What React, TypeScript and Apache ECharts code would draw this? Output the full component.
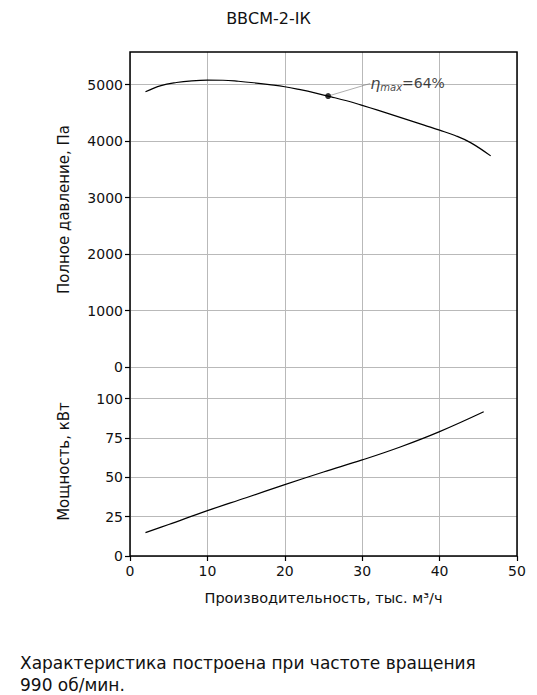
import React, { useEffect, useRef } from 'react';
import * as echarts from 'echarts';

const chartTitle = 'ВВСМ-2-ІК';
const xName = 'Производительность, тыс. м³/ч';
const pressureName = 'Полное давление, Па';
const powerName = 'Мощность, кВт';
const footnote = 'Характеристика построена при частоте вращения\n990 об/мин.';

const xTicks = [0, 10, 20, 30, 40, 50];
const pressureTicks = [0, 1000, 2000, 3000, 4000, 5000];
const powerTicks = [0, 25, 50, 75, 100];

const pressureFlow = [2, 4, 6, 8, 10, 12, 14, 16, 18, 20, 22, 24, 26, 28, 30, 32, 34, 36, 38, 40, 42, 44, 46.6];
const pressureValues = [4876, 4985, 5040, 5070, 5082, 5080, 5062, 5035, 5002, 4965, 4912, 4852, 4786, 4716, 4635, 4550, 4463, 4374, 4284, 4195, 4100, 3975, 3740];

const powerFlow = [2, 5, 10, 15, 20, 25, 30, 35, 40, 45.7];
const powerValues = [14.8, 20, 28.8, 37, 45.3, 53.3, 61, 69.4, 79, 91.6];

const etaPoint = [25.6, 4800];
const etaText = '64%';

const FONT = '"DejaVu Sans", "Liberation Sans", Arial, sans-serif';

export default function App() {
  const ref = useRef<HTMLDivElement>(null);
  useEffect(() => {
    if (!ref.current) return;
    const chart = echarts.init(ref.current, undefined, { renderer: 'svg' });
    const gridColor = '#b9b9b9';
    const axisLabel = { color: '#111', fontSize: 14, fontFamily: FONT, formatter: (v: number) => String(v) };
    const left = 130, right = 20, topTop = 52, midY = 367, bottomY = 556;
    chart.setOption({
      animation: false,
      backgroundColor: '#fff',
      textStyle: { fontFamily: FONT },
      title: {
        text: chartTitle,
        left: 'center',
        top: 5,
        textStyle: { fontSize: 16, fontWeight: 'normal', color: '#111', fontFamily: FONT },
      },
      grid: [
        { left, right, top: topTop, height: midY - topTop },
        { left, right, top: midY, height: bottomY - midY },
      ],
      xAxis: [
        {
          gridIndex: 0, type: 'value', min: xTicks[0], max: xTicks[xTicks.length - 1], interval: 10,
          axisLine: { show: false }, axisTick: { show: false }, axisLabel: { show: false },
          splitLine: { show: true, lineStyle: { color: gridColor, width: 1 } },
        },
        {
          gridIndex: 1, type: 'value', min: xTicks[0], max: xTicks[xTicks.length - 1], interval: 10,
          axisLine: { show: false },
          axisTick: { show: true, inside: false, length: 5, lineStyle: { color: '#000', width: 1.2 } },
          axisLabel: { ...axisLabel, margin: 8 },
          splitLine: { show: true, lineStyle: { color: gridColor, width: 1 } },
          name: xName, nameLocation: 'middle', nameGap: 34,
          nameTextStyle: { color: '#111', fontSize: 14.5, fontFamily: FONT },
        },
      ],
      yAxis: [
        {
          gridIndex: 0, type: 'value', min: 0, max: 5580, interval: 1000,
          axisLine: { show: false },
          axisTick: { show: true, length: 5, customValues: pressureTicks, lineStyle: { color: '#000', width: 1.2 } },
          axisLabel: { ...axisLabel, margin: 7, customValues: pressureTicks },
          splitLine: { show: true, lineStyle: { color: gridColor, width: 1 } },
          name: pressureName, nameLocation: 'middle', nameGap: 59,
          nameTextStyle: { color: '#111', fontSize: 15, fontFamily: FONT },
        },
        {
          gridIndex: 1, type: 'value', min: 0, max: 120, interval: 25,
          axisLine: { show: false },
          axisTick: { show: true, length: 5, customValues: powerTicks, lineStyle: { color: '#000', width: 1.2 } },
          axisLabel: { ...axisLabel, margin: 7, customValues: powerTicks },
          splitLine: { show: true, lineStyle: { color: gridColor, width: 1 } },
          name: powerName, nameLocation: 'middle', nameGap: 59,
          nameTextStyle: { color: '#111', fontSize: 15, fontFamily: FONT },
        },
      ],
      series: [
        {
          type: 'line', xAxisIndex: 0, yAxisIndex: 0,
          data: pressureFlow.map((x, i) => [x, pressureValues[i]]),
          smooth: 0.4, showSymbol: false, lineStyle: { color: '#000', width: 1.2 },
        },
        {
          type: 'scatter', xAxisIndex: 0, yAxisIndex: 0,
          data: [etaPoint], symbolSize: 6, itemStyle: { color: '#000' },
          label: {
            show: true, position: 'right',
            formatter: '{eta|η}{sub|max}{n|=' + etaText + '}',
            rich: {
              eta: { fontStyle: 'italic', fontSize: 16, color: '#111', fontFamily: FONT },
              sub: { fontStyle: 'italic', fontSize: 10, color: '#111', fontFamily: FONT, padding: [8, 0, 0, 0] },
              n: { fontSize: 14, color: '#111', fontFamily: FONT },
            },
          },
          labelLayout: { dx: 34, dy: -13 },
          labelLine: { show: true, length2: 0, lineStyle: { color: '#777', width: 0.6 } },
        },
        {
          type: 'line', xAxisIndex: 1, yAxisIndex: 1,
          data: powerFlow.map((x, i) => [x, powerValues[i]]),
          smooth: 0.4, showSymbol: false, lineStyle: { color: '#000', width: 1.2 },
        },
      ],
      graphic: [
        {
          type: 'rect', shape: { x: left, y: topTop, width: 537 - left - right, height: bottomY - topTop },
          style: { fill: 'none', stroke: '#000', lineWidth: 1.5 }, z: 100, silent: true,
        },
        {
          type: 'text', left: 20, top: 652,
          style: { text: footnote, fontSize: 17, fill: '#111', fontFamily: FONT, lineHeight: 22 },
        },
      ],
    });
    return () => chart.dispose();
  }, []);
  return <div ref={ref} style={{ position: 'absolute', left: 0, top: 0, width: 537, height: 695 }} />;
}
